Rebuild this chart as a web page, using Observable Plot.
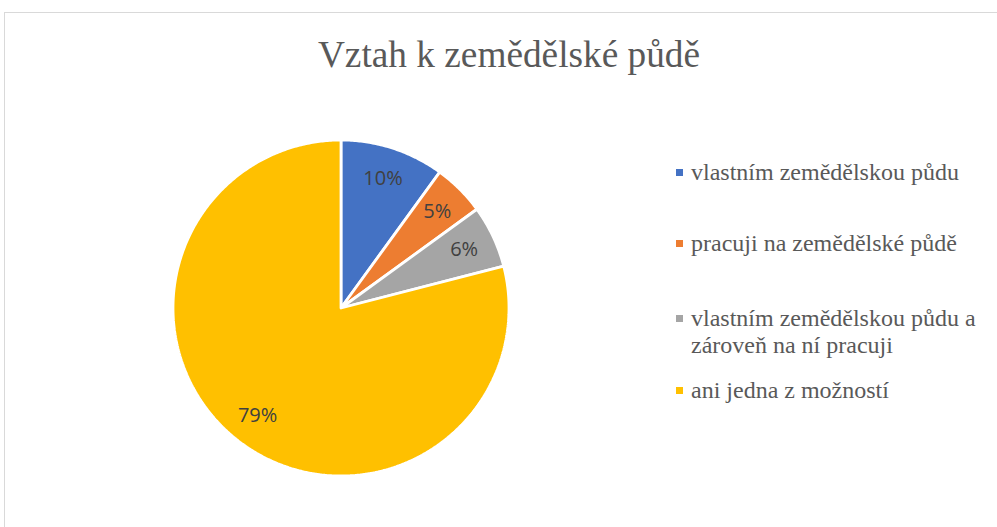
<!DOCTYPE html>
<html>
<head>
<meta charset="utf-8">
<script src="https://cdn.jsdelivr.net/npm/d3@7"></script>
<script src="https://cdn.jsdelivr.net/npm/@observablehq/plot@0.6"></script>
<style>
  html, body { margin: 0; padding: 0; background: #fff; }
  #wrap { position: relative; width: 997px; height: 527px; overflow: hidden; }
  #frame { position: absolute; left: 4px; top: 12px; width: 1100px; height: 600px; border: 1px solid #d9d9d9; box-sizing: border-box; }
  #title { position: absolute; left: 0; width: 1018px; top: 35.5px; text-align: center; font-family: "Liberation Serif", "Times New Roman", serif; font-size: 37.3px; line-height: 1; color: #595959; white-space: nowrap; }
  #chart { position: absolute; left: 0; top: 0; }
  .leg { position: absolute; left: 676px; font-family: "Liberation Serif", "Times New Roman", serif; font-size: 24px; line-height: 26.7px; color: #595959; }
  .leg .sw { position: absolute; left: 0; top: 10px; width: 7px; height: 7px; }
  .leg .tx { position: absolute; left: 15px; top: 0; white-space: nowrap; }
</style>
</head>
<body>
<div id="wrap">
  <div id="frame"></div>
  <div id="chart"></div>
  <div id="title"></div>
  <div id="legend"></div>
</div>
<script>
const titleText = "Vztah k zemědělské půdě";
const categories = [
  "vlastním zemědělskou půdu",
  "pracuji na zemědělské půdě",
  "vlastním zemědělskou půdu a zároveň na ní pracuji",
  "ani jedna z možností"
];
const legendLines = [
  ["vlastním zemědělskou půdu"],
  ["pracuji na zemědělské půdě"],
  ["vlastním zemědělskou půdu a", "zároveň na ní pracuji"],
  ["ani jedna z možností"]
];
const values = [10, 5, 6, 79];
const colors = ["#4472c4", "#ed7d31", "#a5a5a5", "#ffc000"];

// pie geometry in unit-circle data space (angle 0 at 12 o'clock, clockwise)
const arcs = d3.pie().sort(null).value(d => d)(values);
const slicePts = [];
arcs.forEach((a, i) => {
  const n = Math.max(4, Math.ceil((a.endAngle - a.startAngle) / 0.01));
  slicePts.push({cat: categories[i], x: 0, y: 0});
  for (let k = 0; k <= n; k++) {
    const t = a.startAngle + (a.endAngle - a.startAngle) * k / n;
    slicePts.push({cat: categories[i], x: Math.sin(t), y: Math.cos(t)});
  }
  slicePts.push({cat: categories[i], x: 0, y: 0});
});
const labelR = 0.81;
const labels = arcs.map((a, i) => {
  const m = (a.startAngle + a.endAngle) / 2;
  return {cat: categories[i], x: labelR * Math.sin(m), y: labelR * Math.cos(m), text: values[i] + "%"};
});

const cx = 340.5, cy = 307.5, r = 168;
const plot = Plot.plot({
  width: 997,
  height: 527,
  margin: 0,
  x: {domain: [-1, 1], range: [cx - r, cx + r], axis: null},
  y: {domain: [-1, 1], range: [cy + r, cy - r], axis: null},
  color: {domain: categories, range: colors},
  style: {background: "transparent"},
  marks: [
    Plot.line(slicePts, {x: "x", y: "y", z: "cat", fill: "cat", stroke: "white", strokeWidth: 2.8, strokeLinejoin: "miter", curve: "linear"}),
    Plot.text(labels, {x: "x", y: "y", text: "text", fill: "#404040", fontSize: 20, fontFamily: "Open Sans", textAnchor: "middle", lineAnchor: "middle"})
  ]
});
document.getElementById("chart").appendChild(plot);
document.getElementById("title").textContent = titleText;

// legend built from the color scale; rows placed by their text baselines
const color = plot.scale("color");
const rowBaselines = [180, 251, 326.7, 398.3];
const baselineInLine = 21.45;
const legend = document.getElementById("legend");
categories.forEach((c, i) => {
  const row = document.createElement("div");
  row.className = "leg";
  row.style.top = (rowBaselines[i] - baselineInLine) + "px";
  const sw = document.createElement("div");
  sw.className = "sw";
  sw.style.background = color.apply(c);
  row.appendChild(sw);
  const tx = document.createElement("div");
  tx.className = "tx";
  tx.innerHTML = legendLines[i].join("<br>");
  row.appendChild(tx);
  legend.appendChild(row);
});
</script>
</body>
</html>
